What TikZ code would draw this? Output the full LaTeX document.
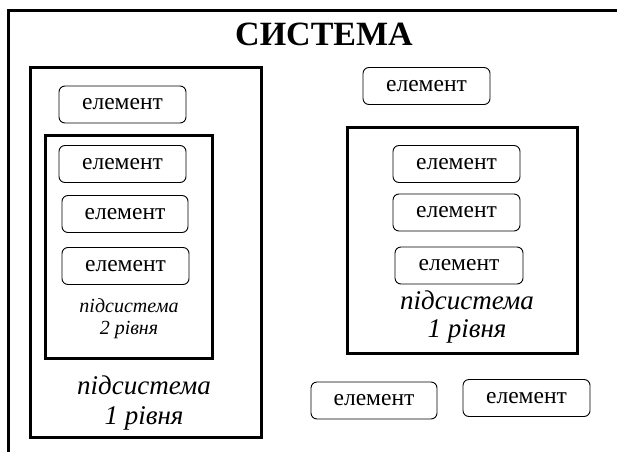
\documentclass[tikz,border=0pt]{standalone}
\usepackage{fontspec}
\setmainfont{Liberation Serif}
\begin{document}
\begin{tikzpicture}[x=1pt,y=-1pt,
  frame/.style={line width=3pt},
  subsys/.style={draw, line width=3pt, inner sep=0pt},
  elem/.style={draw, rounded corners=6pt, line width=0.9pt, inner sep=0pt,
    minimum width=127pt, minimum height=37pt,
    font=\fontsize{23.5}{26}\selectfont},
  lbl/.style={align=center, inner sep=0pt},
]
\useasboundingbox (0,0) rectangle (617,452);

% outer system frame (top and left edges)
\coordinate (sysTL) at (8,11);
\coordinate (sysTR) at (617,11);
\coordinate (sysBL) at (8,452);
\draw[frame] (sysTR) -- (sysTL) -- (sysBL);
\node[font=\fontsize{34}{38}\selectfont\bfseries] (title) at (324,34) {СИСТЕМА};

% left subsystem of level 1 with nested level-2 subsystem
\node[subsys, minimum width=231pt, minimum height=370pt] (subL) at (145.5,252) {};
\node[subsys, minimum width=167pt, minimum height=223pt] (subL2) at (128.5,246.5) {};
\node[elem] (eL0) at (122.5,104.5) {елемент};
\node[elem] (eL1) at (122.5,164) {елемент};
\node[elem, minimum width=126pt] (eL2) at (125,214) {елемент};
\node[elem] (eL3) at (125.5,266) {елемент};
\node[lbl, font=\fontsize{20}{22}\selectfont\itshape] (labL2) at (129,319) {підсистема\\2 рівня};
\node[lbl, font=\fontsize{27}{30}\selectfont\itshape] (labL) at (144,403) {підсистема\\1 рівня};

% right subsystem of level 1
\node[elem] (eT) at (426.5,86) {елемент};
\node[subsys, minimum width=230pt, minimum height=226pt] (subR) at (462,240) {};
\node[elem] (eR1) at (456.5,164) {елемент};
\node[elem] (eR2) at (456.5,212.5) {елемент};
\node[elem, minimum width=128pt] (eR3) at (459,265.5) {елемент};
\node[lbl, font=\fontsize{27}{28}\selectfont\itshape] (labR) at (467,317) {підсистема\\1 рівня};

% free elements at the bottom
\node[elem, minimum width=126pt] (eB1) at (374,400.5) {елемент};
\node[elem] (eB2) at (526.5,398) {елемент};
\end{tikzpicture}
\end{document}
